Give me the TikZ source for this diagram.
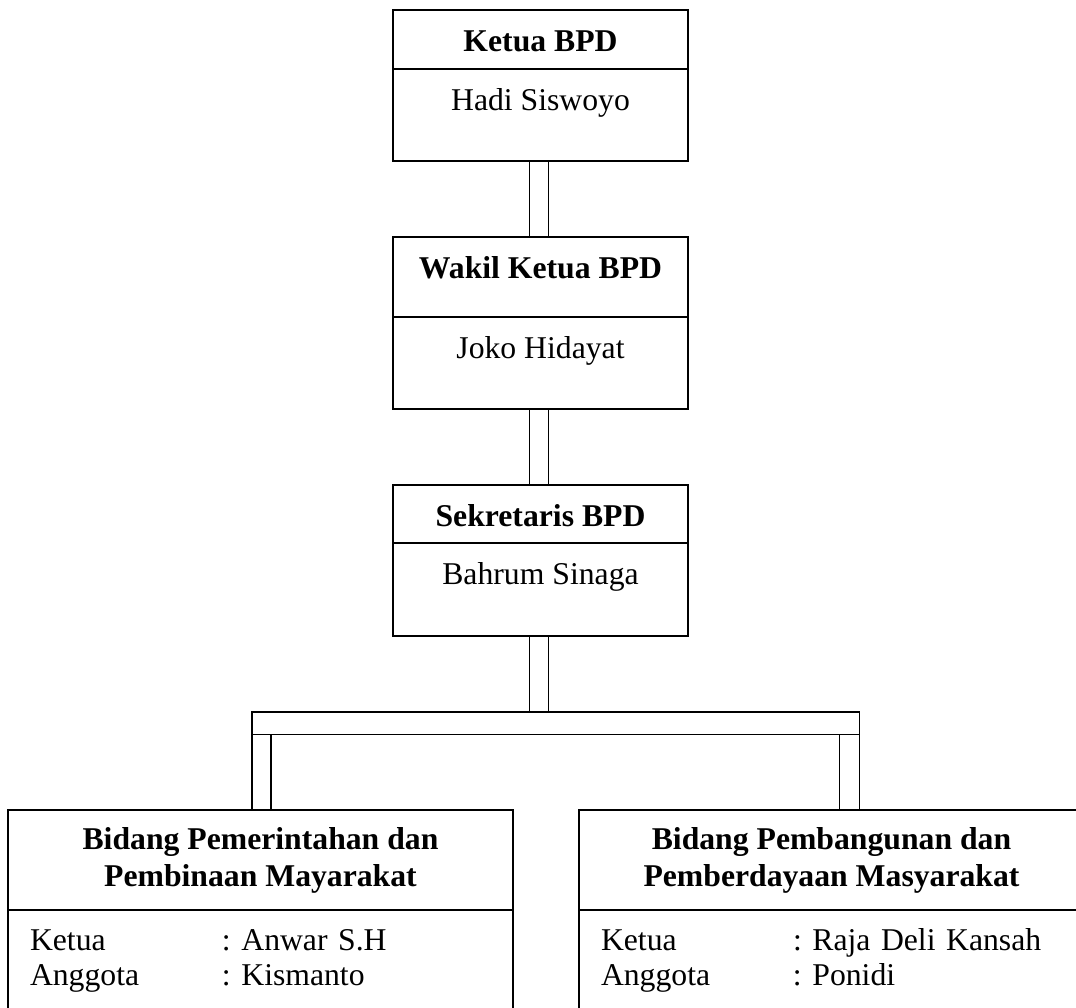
\documentclass[tikz,border=0pt]{standalone}
\usepackage{fontspec}
\setmainfont{Liberation Serif}
\usetikzlibrary{positioning}
\frenchspacing
\newcommand{\ukuran}{\fontsize{15.85pt}{18.5pt}\selectfont}
\newcommand{\ukuranisi}{\fontsize{15.85pt}{17.85pt}\selectfont}

\begin{document}
\begin{tikzpicture}[
    node distance=38pt,
    kotak/.style={draw, line width=1pt, minimum width=147.5pt, inner sep=0pt, outer sep=0pt, text height=20.5pt, anchor=north, font=\ukuran},
    judul/.style={kotak, font=\ukuran\bfseries},
    bidang/.style={draw, line width=1pt, minimum width=252.5pt, minimum height=50pt, inner sep=0pt, outer sep=0pt, align=center, anchor=north, font=\ukuran\bfseries},
    anggota/.style={draw, line width=1pt, text width=230.5pt, inner xsep=11pt, inner ysep=0pt, outer sep=0pt, align=left, text height=20pt, text depth=40pt, font=\ukuranisi},
    tiang/.style={line width=0.8pt}
]
\useasboundingbox (0,0) rectangle (538pt,-503.5pt);
\clip (0,0) rectangle (538pt,-503.5pt);

\node[judul, text depth=9pt] (ketua) at (270.25pt,-5pt) {Ketua BPD};
\node[kotak, text depth=25.5pt, below=0pt of ketua] (ketuaIsi) {Hadi Siswoyo};
\node[judul, text depth=19.5pt, below=of ketuaIsi] (wakil) {Wakil Ketua BPD};
\node[kotak, text depth=25.5pt, below=0pt of wakil] (wakilIsi) {Joko Hidayat};
\node[judul, text depth=8.5pt, below=of wakilIsi] (sekretaris) {Sekretaris BPD};
\node[kotak, text depth=26pt, below=0pt of sekretaris] (sekretarisIsi) {Bahrum Sinaga};

\node[draw, tiang, minimum width=303.8pt, minimum height=11.3pt, inner sep=0pt, outer sep=0pt, anchor=north west] (palang) at (125.85pt,-355.85pt) {};

\node[bidang] (kiri) at (130.25pt,-405pt) {Bidang Pemerintahan dan\\ Pembinaan Mayarakat};
\node[anggota, below=0pt of kiri] (kiriIsi) {\begin{tabular}[t]{@{}p{96pt}@{}l@{}}Ketua & : Anwar S.H\\ Anggota & : Kismanto\end{tabular}};
\node[bidang] (kanan) at (415.75pt,-405pt) {Bidang Pembangunan dan\\ Pemberdayaan Masyarakat};
\node[anggota, below=0pt of kanan] (kananIsi) {\begin{tabular}[t]{@{}p{96pt}@{}l@{}}Ketua & : Raja Deli Kansah\\ Anggota & : Ponidi\end{tabular}};

\draw[tiang] ([xshift=-5.6pt]ketuaIsi.south) -- ([xshift=-5.6pt]wakil.north);
\draw[tiang] ([xshift=3.9pt]ketuaIsi.south) -- ([xshift=3.9pt]wakil.north);
\draw[tiang] ([xshift=-5.6pt]wakilIsi.south) -- ([xshift=-5.6pt]sekretaris.north);
\draw[tiang] ([xshift=3.9pt]wakilIsi.south) -- ([xshift=3.9pt]sekretaris.north);
\draw[tiang] ([xshift=-5.6pt]sekretarisIsi.south) -- ([xshift=-5.6pt]sekretarisIsi.south |- palang.north);
\draw[tiang] ([xshift=3.9pt]sekretarisIsi.south) -- ([xshift=3.9pt]sekretarisIsi.south |- palang.north);

\draw[tiang] (palang.south west) -- (palang.south west |- kiri.north);
\draw[tiang] ([xshift=9.5pt]palang.south west) -- ([xshift=9.5pt]palang.south west |- kiri.north);
\draw[tiang] (palang.south east) -- (palang.south east |- kanan.north);
\draw[tiang] ([xshift=-10pt]palang.south east) -- ([xshift=-10pt]palang.south east |- kanan.north);
\end{tikzpicture}
\end{document}
